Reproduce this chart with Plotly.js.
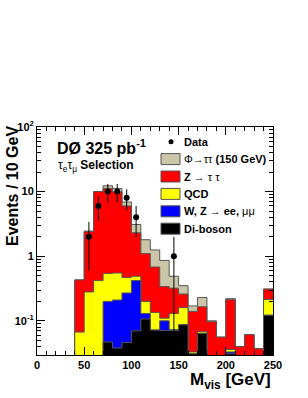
<!DOCTYPE html>
<html><head><meta charset="utf-8">
<script src="https://cdn.plot.ly/plotly-3.0.1.min.js"></script>
<style>html,body{margin:0;padding:0;background:#fff}#chart{width:308px;height:398px}</style>
</head><body><div id="chart"></div>
<script>
// ---- data (events per 10 GeV bin, bins 0-10 ... 240-250) ----
const binLow = [0,10,20,30,40,50,60,70,80,90,100,110,120,130,140,150,160,170,180,190,200,210,220,230,240];
const binWidth = 10;
const diboson = [0,0,0,0,0,0,0,0.047,0.038,0.046,0.07,0.107,0.072,0.071,0.071,0.087,0.031,0.064,0,0,0.031,0,0,0,0.122];
const wzll    = [0,0,0,0,0,0,0,0.153,0.172,0.224,0.35,0.023,0,0.029,0.002,0,0,0,0,0,0.002,0,0,0,0];
const qcd     = [0,0,0,0,0.067,0.28,0.42,0.34,0.34,0.2,0.07,0.07,0.063,0.01,0.057,0.073,0.002,0.004,0,0,0.003,0,0,0,0.092];
const ztautau = [0,0,0,0,0.363,2.12,9.58,10.66,9.35,5.53,1.81,0.9,0.545,0.23,0.19,0.10,0.107,0.097,0.097,0.056,0.176,0.04,0.061,0.037,0.096];
const phi150  = [0,0,0,0,0,0.05,0,1.1,1.3,0.9,0.8,0.7,0.57,0.52,0.17,0.09,0.03,0.065,0.003,0,0.008,0,0,0,0];
const dataCounts  = [0,0,0,0,0,2,6,10,10,8,4,0,0,0,1,0,0,0,0,0,0,0,0,0,0];
const dataErrUp   = [0,0,0,0,0,1.4,2.45,3.16,3.16,2.83,2,0,0,0,1,0,0,0,0,0,0,0,0,0,0];
const dataErrDown = [0,0,0,0,0,1.4,2.45,3.16,3.16,2.83,2,0,0,0,0.9999,0,0,0,0,0,0,0,0,0,0];

const xTickVals = [0,50,100,150,200,250];
const yTickVals = [0.1,1,10,100];
const yTickText = ['10<sup>-1</sup>','1','10','10<sup>2</sup>'];
const yMinorVals = [0.03,0.04,0.05,0.06,0.07,0.08,0.09,0.2,0.3,0.4,0.5,0.6,0.7,0.8,0.9,2,3,4,5,6,7,8,9,20,30,40,50,60,70,80,90];

const components = [
  {name:'Di-boson', vals:diboson, color:'#000000'},
  {name:'W, Z → ee, μμ', vals:wzll, color:'#0000ff'},
  {name:'QCD', vals:qcd, color:'#ffff00'},
  {name:'Z → ττ', vals:ztautau, color:'#ff0000'},
  {name:'Φ→ττ (150 GeV)', vals:phi150, color:'#ccc6a9'}
];

// cumulative stack
let cum = binLow.map(()=>0);
const stacks = components.map(c=>{
  cum = cum.map((v,i)=>v + c.vals[i]);
  return {name:c.name, color:c.color, tops:cum.slice()};
});
const FLOOR = 1e-3; // below the visible range, stands in for empty bins
const edges = binLow.concat([binLow[binLow.length-1]+binWidth]);
const traces = [];
stacks.slice().reverse().forEach(s=>{
  const y = s.tops.map(v=> v>0 ? v : FLOOR);
  y.push(y[y.length-1]);
  traces.push({type:'scatter', mode:'lines', x:edges, y:y, name:s.name,
    line:{shape:'hv', color:'#555555', width:1}, fill:'tozeroy', fillcolor:s.color,
    showlegend:false, hoverinfo:'skip'});
});
const dx=[], dy=[], deu=[], ded=[];
dataCounts.forEach((n,i)=>{ if(n>0){ dx.push(binLow[i]+binWidth/2); dy.push(n); deu.push(dataErrUp[i]); ded.push(dataErrDown[i]); }});
traces.push({type:'scatter', mode:'markers', x:dx, y:dy, name:'Data',
  marker:{color:'black', size:6},
  error_y:{type:'data', symmetric:false, array:deu, arrayminus:ded, color:'black', thickness:1, width:0},
  showlegend:false});

// pixel helpers for decorations
const L=37, T=127, W=236, H=228;
const px = x => (x-L)/W, py = y => (T+H-y)/H;
const FONT = 'Liberation Sans, Arial, sans-serif';

const legendRows = [
  {label:'<b>Data</b>', marker:true},
  {label:'Φ→ττ <b>(150 GeV)</b>', color:'#ccc6a9'},
  {label:'<b>Z</b> → τ τ', color:'#ff0000'},
  {label:'<b>QCD</b>', color:'#ffff00'},
  {label:'<b>W, Z</b> → <b>ee,</b> μμ', color:'#0000ff'},
  {label:'<b>Di-boson</b>', color:'#000000'}
];
const shapes = [], annotations = [];
legendRows.forEach((r,i)=>{
  const cy = 141.7 + 17.4*i;
  if(r.marker){
    shapes.push({type:'circle', xref:'paper', yref:'paper', x0:px(168.5), x1:px(173.5), y0:py(cy+2.5), y1:py(cy-2.5), fillcolor:'black', line:{color:'black', width:0}});
  } else {
    shapes.push({type:'rect', xref:'paper', yref:'paper', x0:px(161), x1:px(180), y0:py(cy+5.5), y1:py(cy-5.5), fillcolor:r.color, line:{color:'#555555', width:1}});
  }
  annotations.push({xref:'paper', yref:'paper', x:px(182), y:py(cy), xanchor:'left', yanchor:'middle', showarrow:false, text:r.label, font:{family:FONT, size:11, color:'black'}});
});
annotations.push({xref:'paper', yref:'paper', x:px(55), y:py(147), xanchor:'left', yanchor:'middle', showarrow:false, text:'<b>DØ 325 pb<sup>-1</sup></b>', font:{family:FONT, size:16, color:'black'}});
annotations.push({xref:'paper', yref:'paper', x:px(56), y:py(166), xanchor:'left', yanchor:'middle', showarrow:false, text:'τ<sub>e</sub>τ<sub>μ</sub> <b>Selection</b>', font:{family:FONT, size:12, color:'black'}});
annotations.push({xref:'paper', yref:'paper', x:px(273), y:py(381), xanchor:'right', yanchor:'middle', showarrow:false, text:'<b>M<sub>vis</sub> [GeV]</b>', font:{family:FONT, size:17, color:'black'}});
annotations.push({xref:'paper', yref:'paper', x:px(12), y:py(186), xanchor:'center', yanchor:'middle', textangle:-90, showarrow:false, text:'<b>Events / 10 GeV</b>', font:{family:FONT, size:16, color:'black'}});

const tickFont = {family:FONT, size:11, color:'black', weight:'bold'};
const layout = {
  width:308, height:398,
  margin:{l:L, r:308-L-W, t:T, b:398-T-H, pad:0},
  paper_bgcolor:'white', plot_bgcolor:'white',
  showlegend:false,
  xaxis:{range:[0,250], tickvals:xTickVals, ticks:'inside', ticklen:8, tickcolor:'black', tickwidth:1,
    minor:{dtick:10, tick0:0, ticks:'inside', ticklen:4, tickcolor:'black', tickwidth:1},
    showline:true, linecolor:'black', linewidth:1, mirror:'ticks', showgrid:false, zeroline:false,
    tickfont:tickFont},
  yaxis:{type:'log', range:[Math.log10(0.0296), 2], tickmode:'array', tickvals:yTickVals, ticktext:yTickText,
    ticks:'inside', ticklen:8, tickcolor:'black', tickwidth:1,
    minor:{tickmode:'array', tickvals:yMinorVals, ticks:'inside', ticklen:4, tickcolor:'black', tickwidth:1},
    showline:true, linecolor:'black', linewidth:1, mirror:'ticks', showgrid:false, zeroline:false,
    tickfont:tickFont},
  shapes:shapes, annotations:annotations
};
Plotly.newPlot('chart', traces, layout, {staticPlot:true, displayModeBar:false});
</script></body></html>
